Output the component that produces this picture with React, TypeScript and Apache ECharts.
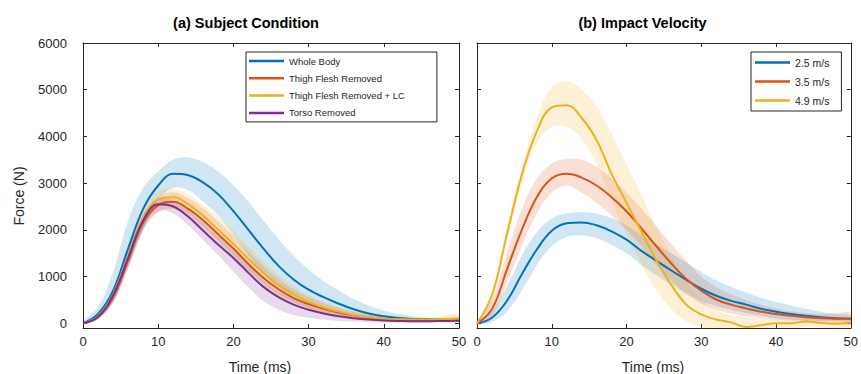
import React, { useEffect, useRef } from "react";
import * as echarts from "echarts";

// time axis (ms)
const times = [0, 2, 4, 6, 8, 10, 12, 14, 16, 18, 20, 22, 24, 26, 28, 30, 32, 34, 36, 38, 40, 42, 44, 46, 48, 50];
const xTicks = [0, 10, 20, 30, 40, 50];
const yTicks = [0, 1000, 2000, 3000, 4000, 5000, 6000];

// (a) Subject Condition
const wbMean = [0, 200, 700, 1600, 2450, 2950, 3200, 3170, 3010, 2760, 2400, 2000, 1600, 1230, 940, 720, 560, 420, 300, 210, 150, 115, 95, 85, 80, 80];
const wbUpper = [50, 350, 1100, 2200, 2900, 3250, 3500, 3550, 3450, 3250, 2950, 2600, 2200, 1800, 1450, 1150, 900, 700, 520, 380, 270, 200, 150, 120, 110, 110];
const wbLower = [0, 100, 450, 1200, 2000, 2650, 2900, 2850, 2600, 2300, 1900, 1450, 1050, 750, 530, 380, 280, 200, 140, 100, 70, 55, 50, 50, 50, 50];

const tfrMean = [0, 130, 550, 1350, 2150, 2530, 2600, 2450, 2200, 1900, 1600, 1270, 970, 730, 540, 410, 310, 230, 170, 125, 95, 80, 72, 70, 70, 75];
const tfrUpper = [0, 170, 670, 1530, 2330, 2710, 2800, 2680, 2460, 2180, 1880, 1540, 1220, 950, 730, 570, 440, 330, 250, 185, 145, 120, 110, 110, 120, 135];
const tfrLower = [0, 90, 430, 1170, 1980, 2380, 2450, 2300, 2050, 1750, 1450, 1130, 840, 610, 440, 320, 230, 160, 110, 75, 55, 45, 42, 40, 40, 45];

const lcMean = [0, 150, 620, 1450, 2250, 2650, 2700, 2550, 2300, 2000, 1700, 1380, 1080, 820, 620, 460, 340, 250, 180, 130, 100, 85, 80, 80, 90, 100];
const lcUpper = [0, 190, 740, 1620, 2420, 2820, 2880, 2760, 2540, 2280, 1980, 1650, 1330, 1040, 800, 610, 460, 350, 260, 195, 150, 125, 115, 120, 150, 220];
const lcLower = [0, 110, 500, 1280, 2080, 2480, 2520, 2350, 2080, 1760, 1440, 1120, 840, 610, 450, 320, 230, 160, 110, 75, 55, 50, 50, 50, 55, 60];

const trMean = [0, 140, 600, 1400, 2200, 2550, 2500, 2280, 1980, 1680, 1400, 1080, 780, 560, 400, 290, 210, 150, 110, 80, 60, 50, 45, 45, 50, 55];
const trUpper = [0, 180, 700, 1550, 2330, 2650, 2620, 2420, 2140, 1850, 1560, 1240, 930, 690, 510, 380, 280, 210, 150, 110, 85, 70, 65, 65, 70, 75];
const trLower = [0, 100, 480, 1220, 2020, 2400, 2350, 2100, 1780, 1450, 1110, 770, 470, 290, 180, 120, 80, 50, 35, 25, 20, 20, 20, 20, 25, 30];

// (b) Impact Velocity
const v25Mean = [0, 120, 480, 1050, 1580, 1980, 2140, 2160, 2100, 1970, 1790, 1550, 1340, 1130, 930, 740, 590, 480, 400, 310, 250, 200, 160, 130, 110, 100];
const v25Upper = [20, 250, 800, 1450, 1950, 2250, 2350, 2380, 2350, 2250, 2100, 1900, 1700, 1500, 1300, 1100, 920, 780, 660, 550, 460, 380, 310, 250, 200, 170];
const v25Lower = [-20, 30, 250, 700, 1250, 1650, 1850, 1880, 1820, 1680, 1500, 1250, 1030, 830, 640, 480, 370, 290, 220, 160, 110, 80, 60, 50, 50, 50];

const v35Mean = [0, 300, 1150, 2000, 2700, 3100, 3200, 3120, 2950, 2700, 2400, 2030, 1650, 1280, 950, 700, 510, 400, 320, 250, 200, 160, 130, 110, 100, 100];
const v35Upper = [20, 500, 1500, 2450, 3100, 3420, 3520, 3500, 3350, 3100, 2800, 2450, 2080, 1700, 1330, 1000, 780, 620, 500, 400, 320, 260, 220, 200, 210, 240];
const v35Lower = [-20, 150, 850, 1650, 2350, 2800, 2950, 2800, 2580, 2300, 2000, 1650, 1250, 900, 620, 420, 290, 210, 150, 110, 80, 60, 40, 20, 0, -20];

const v49Mean = [0, 600, 1900, 3180, 4110, 4620, 4670, 4400, 3920, 3200, 2580, 1960, 1350, 820, 400, 190, 80, 20, -80, -40, 0, 0, 40, 10, -10, 20];
const v49Upper = [20, 680, 2050, 3350, 4400, 5050, 5180, 5000, 4650, 4050, 3400, 2750, 2050, 1450, 900, 500, 280, 180, 130, 100, 100, 100, 100, 100, 100, 100];
const v49Lower = [-20, 480, 1750, 3000, 3850, 4200, 4200, 3950, 3400, 2600, 1900, 1250, 700, 300, 50, -100, -200, -250, -300, -250, -150, -120, -80, -100, -100, -80];

const C_BLUE = "#0072BD";
const C_ORANGE = "#D95319";
const C_YELLOW = "#EDB120";
const C_PURPLE = "#7E2F8E";
const AX = "#262626";
const FONT = "'Liberation Sans', Arial, Helvetica, sans-serif";

const pairs = (ys: number[]) => times.map((t, i) => [t, ys[i]]);

function band(id: string, lower: number[], upper: number[], color: string, xi: number, yi: number) {
  return {
    type: "custom",
    name: "_band_" + id,
    xAxisIndex: xi,
    yAxisIndex: yi,
    clip: true,
    silent: true,
    z: 1,
    data: times.map((t, i) => [t, lower[i], upper[i]]),
    encode: { x: 0, y: [1, 2] },
    renderItem: (params: any, api: any) => {
      if (params.dataIndex !== 0) return null;
      const pts: number[][] = [];
      for (let i = 0; i < times.length; i++) pts.push(api.coord([times[i], upper[i]]));
      for (let i = times.length - 1; i >= 0; i--) pts.push(api.coord([times[i], lower[i]]));
      return {
        type: "polygon",
        shape: { points: pts, smooth: 0.35 },
        style: { fill: color, opacity: 0.18, stroke: "none" },
      };
    },
  };
}

function mainLine(name: string, ys: number[], color: string, xi: number, yi: number) {
  return {
    type: "line",
    name,
    xAxisIndex: xi,
    yAxisIndex: yi,
    data: pairs(ys),
    smooth: 0.4,
    symbol: "none",
    color,
    lineStyle: { color, width: 2 },
    z: 5,
  };
}

function xAx(gridIndex: number, position: string, labels: boolean) {
  return {
    type: "value",
    gridIndex,
    position,
    min: 0,
    max: 50,
    interval: 10,
    axisLine: { show: true, onZero: false, lineStyle: { color: AX, width: 1 } },
    axisTick: { show: true, inside: true, length: 4, customValues: xTicks, lineStyle: { color: AX } },
    axisLabel: { show: labels, customValues: xTicks, color: AX, fontSize: 13, fontFamily: FONT, margin: 7 },
    splitLine: { show: false },
  };
}

function yAx(gridIndex: number, position: string, labels: boolean) {
  return {
    type: "value",
    gridIndex,
    position,
    min: -100,
    max: 6000,
    axisLine: { show: true, onZero: false, lineStyle: { color: AX, width: 1 } },
    axisTick: { show: true, inside: true, length: 4, customValues: yTicks, lineStyle: { color: AX } },
    axisLabel: {
      show: labels,
      customValues: yTicks,
      formatter: (v: number) => String(v),
      color: AX,
      fontSize: 13,
      fontFamily: FONT,
      margin: 16,
      padding: [0, 0, 6, 0],
    },
    splitLine: { show: false },
  };
}

export default function App() {
  const ref = useRef<HTMLDivElement>(null);
  useEffect(() => {
    if (!ref.current) return;
    const chart = echarts.init(ref.current, null, { renderer: "svg" });
    const leftNames = ["Whole Body", "Thigh Flesh Removed", "Thigh Flesh Removed + LC", "Torso Removed"];
    const rightNames = ["2.5 m/s", "3.5 m/s", "4.9 m/s"];
    const option: any = {
      animation: false,
      backgroundColor: "#ffffff",
      textStyle: { fontFamily: FONT },
      grid: [
        { left: 83, top: 43, width: 376, height: 285 },
        { left: 477, top: 43, width: 376, height: 285 },
      ],
      xAxis: [xAx(0, "bottom", true), xAx(0, "top", false), xAx(1, "bottom", true), xAx(1, "top", false)],
      yAxis: [yAx(0, "left", true), yAx(0, "right", false), yAx(1, "left", false), yAx(1, "right", false)],
      legend: [
        {
          data: leftNames,
          orient: "vertical",
          left: 246,
          top: 52,
          icon: "rect",
          itemWidth: 35,
          itemHeight: 2.5,
          itemGap: 5.3,
          padding: [3, 32, 3, 3],
          borderColor: AX,
          borderWidth: 1,
          backgroundColor: "#ffffff",
          textStyle: { fontSize: 9.5, color: AX, fontFamily: FONT, lineHeight: 12 },
          selectedMode: false,
        },
        {
          data: rightNames,
          orient: "vertical",
          left: 751,
          top: 52,
          icon: "rect",
          itemWidth: 35,
          itemHeight: 2.5,
          itemGap: 6,
          padding: [4, 12, 4, 4],
          borderColor: AX,
          borderWidth: 1,
          backgroundColor: "#ffffff",
          textStyle: { fontSize: 10.5, color: AX, fontFamily: FONT, lineHeight: 13 },
          selectedMode: false,
        },
      ],
      graphic: [
        {
          type: "text",
          x: 246,
          y: 23,
          style: { text: "(a) Subject Condition", font: `bold 14.5px ${FONT}`, fill: "#000", align: "center", verticalAlign: "middle" },
        },
        {
          type: "text",
          x: 642.5,
          y: 23,
          style: { text: "(b) Impact Velocity", font: `bold 14.5px ${FONT}`, fill: "#000", align: "center", verticalAlign: "middle" },
        },
        {
          type: "text",
          x: 19,
          y: 196,
          rotation: Math.PI / 2,
          style: { text: "Force (N)", font: `14px ${FONT}`, fill: AX, align: "center", verticalAlign: "middle" },
        },
        {
          type: "text",
          x: 260,
          y: 367,
          style: { text: "Time (ms)", font: `14px ${FONT}`, fill: AX, align: "center", verticalAlign: "middle" },
        },
        {
          type: "text",
          x: 653,
          y: 367,
          style: { text: "Time (ms)", font: `14px ${FONT}`, fill: AX, align: "center", verticalAlign: "middle" },
        },
      ],
      series: [
        band("wb", wbLower, wbUpper, C_BLUE, 0, 0),
        band("tfr", tfrLower, tfrUpper, C_ORANGE, 0, 0),
        band("lc", lcLower, lcUpper, C_YELLOW, 0, 0),
        band("tr", trLower, trUpper, C_PURPLE, 0, 0),
        mainLine(leftNames[0], wbMean, C_BLUE, 0, 0),
        mainLine(leftNames[1], tfrMean, C_ORANGE, 0, 0),
        mainLine(leftNames[2], lcMean, C_YELLOW, 0, 0),
        mainLine(leftNames[3], trMean, C_PURPLE, 0, 0),
        band("v25", v25Lower, v25Upper, C_BLUE, 2, 2),
        band("v35", v35Lower, v35Upper, C_ORANGE, 2, 2),
        band("v49", v49Lower, v49Upper, C_YELLOW, 2, 2),
        mainLine(rightNames[0], v25Mean, C_BLUE, 2, 2),
        mainLine(rightNames[1], v35Mean, C_ORANGE, 2, 2),
        mainLine(rightNames[2], v49Mean, C_YELLOW, 2, 2),
      ],
    };
    chart.setOption(option);
    return () => chart.dispose();
  }, []);
  return <div ref={ref} style={{ position: "absolute", left: 0, top: 0, width: 861, height: 374 }} />;
}
